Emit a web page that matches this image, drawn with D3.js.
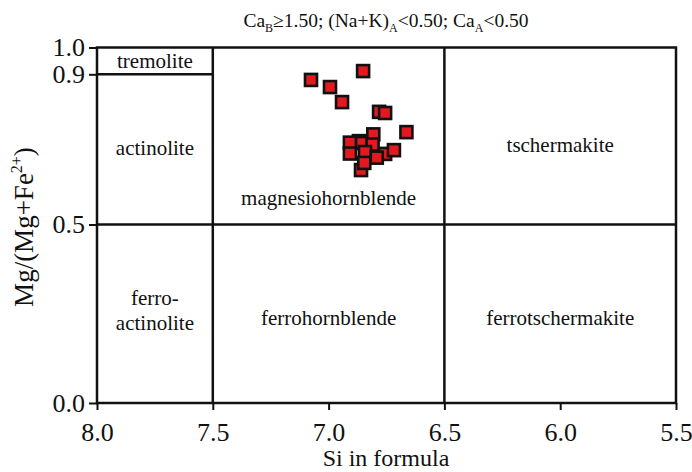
<!DOCTYPE html>
<html>
<head>
<meta charset="utf-8">
<script src="https://cdn.jsdelivr.net/npm/d3@7"></script>
<style>
  html, body { margin: 0; padding: 0; background: #fff; }
  svg { display: block; }
  svg text { font-family: "Liberation Serif", "Times New Roman", Times, serif !important; }
</style>
</head>
<body>
<svg id="chart" width="692" height="472"></svg>
<script>
// Amphibole classification (Leech): Si a.p.f.u. vs Mg/(Mg+Fe2+)
const siValues = [6.851, 7.076, 6.994, 6.942, 6.782, 6.756, 6.664, 6.869, 6.856, 6.807,
                  6.908, 6.810, 6.756, 6.718, 6.908, 6.843, 6.792, 6.860, 6.846];
const mgValues = [0.912, 0.885, 0.866, 0.826, 0.800, 0.797, 0.746, 0.722, 0.717, 0.740,
                  0.718, 0.713, 0.688, 0.698, 0.689, 0.693, 0.678, 0.645, 0.664];

const xTicks = [8.0, 7.5, 7.0, 6.5, 6.0, 5.5];
const yTicks = [0.0, 0.5, 0.9, 1.0];

// field boundaries: [si1, mg1, si2, mg2]
const boundaries = [
  [7.5, 0.0, 7.5, 1.0],
  [6.5, 0.0, 6.5, 1.0],
  [8.0, 0.5, 5.5, 0.5],
  [8.0, 0.9, 7.5, 0.9]
];

// field names with their anchor in Si / Mg# units
const fieldNames = ["tremolite", "actinolite", "magnesiohornblende", "tschermakite",
                    "ferro-", "actinolite", "ferrohornblende", "ferrotschermakite"];
const fieldSi = [7.75, 7.75, 7.0, 6.0, 7.75, 7.75, 7.0, 6.0];
const fieldMg = [0.95, 0.704, 0.571, 0.712, 0.294, 0.224, 0.238, 0.238];

const svg = d3.select("#chart");
const plotL = 97, plotR = 676, plotT = 47.5, plotB = 403;

const x = d3.scaleLinear().domain([8.0, 5.5]).range([plotL, plotR]);
// the printed diagram stretches the 0.9–1.0 band; reproduce it piecewise
const y = d3.scaleLinear().domain([0, 0.5, 0.9, 1.0]).range([plotB, 224.5, 74.3, plotT]);

const ink = "#111";

// title
const title = svg.append("text")
  .attr("x", 386).attr("y", 27)
  .attr("text-anchor", "middle")
  .attr("font-size", 19.5)
  .attr("fill", ink);
title.append("tspan").text("Ca");
title.append("tspan").attr("font-size", 12).attr("dy", 5).text("B");
title.append("tspan").attr("dy", -5).text("≥1.50; (Na+K)");
title.append("tspan").attr("font-size", 12).attr("dy", 5).text("A");
title.append("tspan").attr("dy", -5).text("<0.50; Ca");
title.append("tspan").attr("font-size", 12).attr("dy", 5).text("A");
title.append("tspan").attr("dy", -5).text("<0.50");

// axes
const xAxis = d3.axisBottom(x).tickValues(xTicks).tickSize(7).tickPadding(13)
  .tickFormat(d3.format(".1f"));
const gx = svg.append("g").attr("transform", `translate(0,${plotB})`).call(xAxis);
gx.select(".domain").remove();
gx.selectAll(".tick line").attr("stroke", ink).attr("stroke-width", 2);
gx.selectAll(".tick text").attr("font-size", 26).attr("fill", ink);

const yAxis = d3.axisLeft(y).tickValues(yTicks).tickSize(8).tickPadding(4)
  .tickFormat(d3.format(".1f"));
const gy = svg.append("g").attr("transform", `translate(${plotL},0)`).call(yAxis);
gy.select(".domain").remove();
gy.selectAll(".tick line").attr("stroke", ink).attr("stroke-width", 2);
gy.selectAll(".tick text").attr("font-size", 26).attr("fill", ink);

// frame
svg.append("rect")
  .attr("x", x(8.0)).attr("y", y(1.0))
  .attr("width", x(5.5) - x(8.0)).attr("height", y(0) - y(1.0))
  .attr("fill", "none").attr("stroke", ink).attr("stroke-width", 2.5);

// field boundaries
svg.append("g").selectAll("line").data(boundaries).join("line")
  .attr("x1", d => x(d[0])).attr("y1", d => y(d[1]))
  .attr("x2", d => x(d[2])).attr("y2", d => y(d[3]))
  .attr("stroke", ink).attr("stroke-width", 2.5);

// field names
svg.append("g").selectAll("text").data(fieldNames).join("text")
  .attr("x", (d, i) => x(fieldSi[i]))
  .attr("y", (d, i) => y(fieldMg[i]))
  .attr("dy", "0.35em")
  .attr("text-anchor", "middle")
  .attr("font-size", 21)
  .attr("fill", ink)
  .text(d => d);

// axis titles
svg.append("text")
  .attr("x", 386).attr("y", 466)
  .attr("text-anchor", "middle")
  .attr("font-size", 24).attr("fill", ink)
  .text("Si in formula");

const yt = svg.append("text")
  .attr("transform", "translate(33,227) rotate(-90)")
  .attr("text-anchor", "middle")
  .attr("font-size", 27).attr("fill", ink);
yt.append("tspan").text("Mg/(Mg+Fe");
yt.append("tspan").attr("font-size", 16).attr("dy", -11).text("2+");
yt.append("tspan").attr("dy", 11).text(")");

// samples
const side = 12;
svg.append("g").selectAll("rect").data(siValues).join("rect")
  .attr("x", (d) => x(d) - side / 2)
  .attr("y", (d, i) => y(mgValues[i]) - side / 2)
  .attr("width", side).attr("height", side)
  .attr("fill", "#e3191f")
  .attr("stroke", ink).attr("stroke-width", 2.6);
</script>
</body>
</html>
